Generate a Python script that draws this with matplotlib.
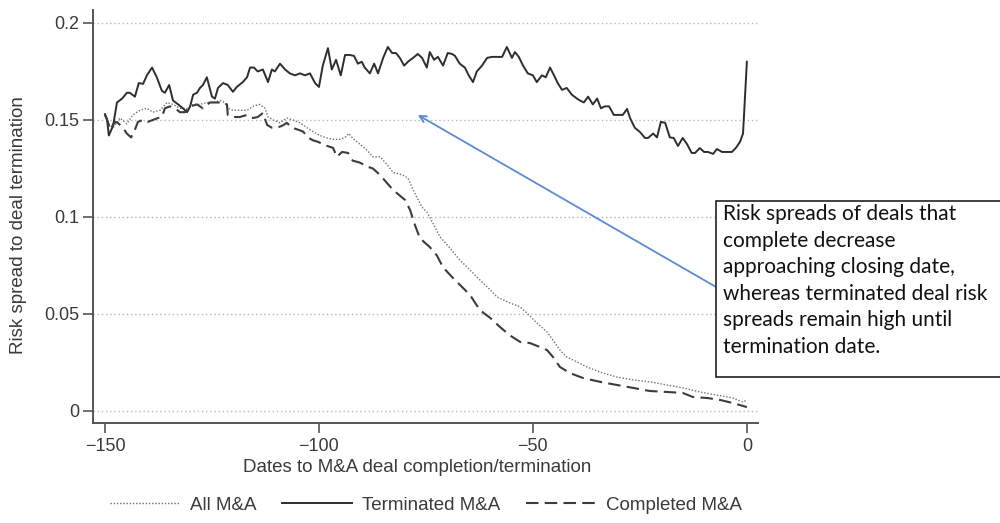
import matplotlib
matplotlib.use("Agg")
import matplotlib.pyplot as plt
from matplotlib.patches import Rectangle

# Days relative to deal completion / termination, and mean risk spreads
term_days = [-150, -149.5, -149.1, -148.1, -147.2, -146.0, -144.9, -144.2, -143.0, -142.1,
             -141.1, -140.2, -139.0, -137.9, -136.7, -136.0, -135.0, -134.1, -132.9, -131.8,
             -130.8, -130.1, -129.4, -128.5, -127.8, -127.1, -126.2, -125.0, -124.3, -123.6,
             -122.4, -121.3, -120.1, -119.2, -117.8, -116.8, -116.1, -115.2, -114.3, -113.1,
             -111.9, -111.0, -110.3, -109.1, -107.9, -106.8, -105.6, -104.4, -103.3, -102.1,
             -100.9, -100.0, -99.1, -97.9, -97.0, -96.0, -94.9, -93.9, -92.8, -91.8,
             -90.9, -90.0, -89.3, -88.1, -87.1, -86.2, -85.0, -83.9, -82.9, -82.0,
             -81.1, -80.1, -79.2, -78.0, -76.9, -75.9, -74.8, -74.1, -73.1, -72.2,
             -71.0, -69.9, -68.9, -68.2, -67.1, -65.9, -65.0, -64.0, -63.1, -61.9,
             -60.7, -59.6, -58.4, -57.2, -56.1, -54.9, -54.2, -53.3, -52.3, -51.2,
             -50.0, -49.1, -47.9, -47.0, -46.0, -45.3, -44.2, -43.2, -42.1, -40.9,
             -39.7, -39.0, -38.1, -37.1, -36.0, -35.0, -34.1, -33.2, -32.2, -31.1,
             -29.9, -29.0, -28.0, -27.3, -26.2, -25.0, -23.8, -23.1, -21.9, -21.0,
             -20.1, -19.1, -18.0, -17.1, -16.1, -15.0, -14.0, -12.9, -12.1, -11.0,
             -10.0, -9.1, -7.9, -7.0, -5.8, -4.7, -3.5, -2.6, -1.6, -0.9,
             0]
term_spread = [0.153, 0.150, 0.142, 0.147, 0.159, 0.161, 0.164, 0.164, 0.162, 0.169,
               0.1686, 0.173, 0.177, 0.172, 0.165, 0.164, 0.168, 0.160, 0.158, 0.156,
               0.154, 0.157, 0.163, 0.164, 0.1665, 0.168, 0.172, 0.162, 0.161, 0.1665,
               0.169, 0.168, 0.1645, 0.167, 0.1695, 0.172, 0.177, 0.177, 0.175, 0.176,
               0.1695, 0.176, 0.175, 0.179, 0.176, 0.174, 0.173, 0.174, 0.173, 0.174,
               0.169, 0.167, 0.178, 0.187, 0.176, 0.181, 0.173, 0.1835, 0.1835, 0.183,
               0.179, 0.180, 0.177, 0.174, 0.179, 0.174, 0.182, 0.1876, 0.1845, 0.1845,
               0.182, 0.178, 0.180, 0.182, 0.184, 0.182, 0.177, 0.185, 0.181, 0.1825,
               0.178, 0.1845, 0.184, 0.183, 0.179, 0.177, 0.173, 0.1695, 0.175, 0.178,
               0.182, 0.1825, 0.1825, 0.1825, 0.1876, 0.182, 0.185, 0.1825, 0.178, 0.174,
               0.173, 0.1695, 0.173, 0.172, 0.177, 0.174, 0.169, 0.1655, 0.1665, 0.163,
               0.161, 0.160, 0.159, 0.162, 0.158, 0.161, 0.156, 0.157, 0.157, 0.1526,
               0.1526, 0.1526, 0.1557, 0.151, 0.146, 0.1438, 0.1407, 0.1407, 0.143, 0.141,
               0.149, 0.1485, 0.141, 0.1407, 0.1366, 0.1407, 0.1376, 0.133, 0.133, 0.1355,
               0.1335, 0.1335, 0.1325, 0.135, 0.1335, 0.1335, 0.1335, 0.1355, 0.1387, 0.143,
               0.180]

all_days = [-150.0, -148.8, -148.1, -146.5, -144.9, -143.5, -141.8, -140.2, -138.8, -137.1,
            -135.5, -134.1, -132.5, -130.8, -129.4, -127.8, -126.2, -124.8, -123.1, -122.0,
            -121.3, -120.1, -118.5, -116.8, -115.4, -113.8, -112.6, -111.9, -110.7, -109.1,
            -107.5, -106.1, -104.4, -102.8, -101.4, -99.8, -98.1, -96.7, -95.1, -93.9,
            -93.0, -92.1, -91.1, -88.8, -87.4, -85.7, -84.1, -82.7, -80.4, -79.2,
            -78.3, -77.1, -75.9, -74.8, -73.4, -71.7, -69.4, -67.1, -64.7, -62.9,
            -60.7, -58.4, -55.4, -53.0, -51.4, -49.1, -46.7, -45.3, -43.7, -42.1,
            -39.7, -37.4, -34.3, -30.4, -26.6, -22.7, -18.7, -15.0, -11.0, -7.0,
            -3.3, -0.9, 0.0]
all_spread = [0.1526, 0.147, 0.146, 0.151, 0.148, 0.1526, 0.155, 0.156, 0.154, 0.155,
              0.159, 0.158, 0.156, 0.156, 0.158, 0.158, 0.159, 0.159, 0.160, 0.159,
              0.156, 0.155, 0.155, 0.155, 0.157, 0.158, 0.156, 0.1515, 0.150, 0.1485,
              0.151, 0.150, 0.1485, 0.146, 0.144, 0.142, 0.1407, 0.140, 0.140, 0.141,
              0.143, 0.1405, 0.1387, 0.1345, 0.131, 0.131, 0.127, 0.123, 0.1216, 0.120,
              0.1155, 0.110, 0.105, 0.1026, 0.097, 0.0897, 0.084, 0.0778, 0.0727, 0.0686,
              0.064, 0.0588, 0.0557, 0.0536, 0.0505, 0.0454, 0.0407, 0.0366, 0.0314, 0.0278,
              0.0253, 0.0227, 0.020, 0.0175, 0.016, 0.015, 0.0134, 0.0119, 0.0098, 0.0082,
              0.0067, 0.0046, 0.0057]

comp_days = [-150.0, -149.5, -148.8, -147.7, -147.0, -145.8, -144.9, -143.9, -143.0, -142.3,
             -141.1, -140.0, -138.8, -137.6, -136.7, -136.0, -134.8, -133.6, -132.5, -131.3,
             -130.1, -128.5, -127.1, -125.5, -123.8, -122.4, -121.5, -121.3, -120.1, -118.5,
             -116.8, -115.4, -114.3, -113.1, -112.1, -111.0, -109.8, -108.6, -107.5, -106.3,
             -104.9, -103.7, -102.6, -101.4, -100.2, -98.6, -96.7, -95.8, -94.6, -93.2,
             -92.1, -90.4, -88.8, -87.4, -85.7, -84.1, -82.7, -81.1, -79.9, -78.7,
             -77.6, -76.4, -74.1, -72.4, -71.0, -68.7, -66.6, -64.7, -62.4, -60.0,
             -57.7, -55.4, -53.0, -50.7, -48.4, -46.7, -45.3, -43.7, -41.4, -38.3,
             -34.3, -30.4, -26.6, -22.7, -18.7, -15.0, -12.6, -9.3, -6.3, -3.3,
             0.0]
comp_spread = [0.1526, 0.150, 0.145, 0.149, 0.1485, 0.146, 0.143, 0.141, 0.145, 0.149,
               0.150, 0.149, 0.150, 0.151, 0.1515, 0.156, 0.157, 0.156, 0.154, 0.154,
               0.157, 0.158, 0.156, 0.159, 0.159, 0.159, 0.158, 0.1526, 0.1515, 0.1515,
               0.1526, 0.151, 0.1515, 0.1536, 0.1474, 0.146, 0.146, 0.147, 0.1485, 0.146,
               0.145, 0.144, 0.141, 0.1395, 0.1387, 0.137, 0.1356, 0.131, 0.1335, 0.133,
               0.129, 0.128, 0.126, 0.125, 0.1216, 0.1175, 0.114, 0.111, 0.1088, 0.1036,
               0.096, 0.089, 0.0845, 0.080, 0.074, 0.0686, 0.064, 0.0598, 0.052, 0.048,
               0.0433, 0.039, 0.0356, 0.035, 0.033, 0.0314, 0.0278, 0.0227, 0.0196, 0.017,
               0.015, 0.0134, 0.0119, 0.0103, 0.0098, 0.0093, 0.0072, 0.0067, 0.0057, 0.0041,
               0.002]

x_ticks = [-150, -100, -50, 0]
y_ticks = [0, 0.05, 0.1, 0.15, 0.2]
y_tick_labels = ["0", "0.05", "0.1", "0.15", "0.2"]

series_labels = ["All M&A", "Terminated M&A", "Completed M&A"]
x_title = "Dates to M&A deal completion/termination"
y_title = "Risk spread to deal termination"
note_text = ("Risk spreads of deals that\n"
             "complete decrease\n"
             "approaching closing date,\n"
             "whereas terminated deal risk\n"
             "spreads remain high until\n"
             "termination date.")

plt.rcParams["font.family"] = ["Liberation Sans", "DejaVu Sans"]
ink = "#3a3a3a"

fig = plt.figure(figsize=(10, 5.23), dpi=100)
ax = fig.add_axes([0.093, 0.1912, 0.665, 0.7898])

ax.set_xlim(-152.8, 2.6)
ax.set_ylim(-0.0062, 0.2067)

for yv in y_ticks:
    ax.axhline(yv, color="#b8b8b8", lw=1.0, ls=(0, (1, 2)), zorder=0)

l_all, = ax.plot(all_days, all_spread, color="#707070", lw=1.0,
                 ls=(0, (1, 1.3)), label=series_labels[0])
l_term, = ax.plot(term_days, term_spread, color="#2e2e2e", lw=1.4,
                  label=series_labels[1])
l_comp, = ax.plot(comp_days, comp_spread, color="#3c3c3c", lw=1.5,
                  ls=(0, (6, 3)), label=series_labels[2])

for side in ["top", "right"]:
    ax.spines[side].set_visible(False)
for side in ["left", "bottom"]:
    ax.spines[side].set_color("#555555")
    ax.spines[side].set_linewidth(1.4)

ax.set_xticks(x_ticks)
ax.set_xticklabels([f"\u2212{abs(v)}" if v < 0 else str(v) for v in x_ticks])
ax.set_yticks(y_ticks)
ax.set_yticklabels(y_tick_labels)
ax.tick_params(axis="both", direction="out", length=7, width=1.2,
               color="#555555", labelcolor=ink, labelsize=13)
ax.tick_params(axis="x", pad=4)
ax.tick_params(axis="y", pad=3)

fig.text(0.417, 1 - 468 / 523, x_title, ha="center", va="center",
         fontsize=13.5, color=ink)
fig.text(0.019, 1 - 225 / 523, y_title, ha="center", va="center",
         rotation=90, fontsize=13.5, color=ink)

fig.legend(handles=[l_all, l_term, l_comp], labels=series_labels,
           loc="center", bbox_to_anchor=(0.426, 1 - 505 / 523), ncol=3,
           frameon=False, fontsize=13.5, handlelength=3.7, handletextpad=0.55,
           columnspacing=1.4, labelcolor=ink)

# Annotation box with arrow pointing at the terminated-deal series
box = Rectangle((0.716, 1 - 377 / 523), 0.4, (377 - 201) / 523,
                transform=fig.transFigure, fill=True, facecolor="white",
                edgecolor="#222222", lw=1.2, clip_on=False, zorder=5)
fig.patches.append(box)
fig.text(0.723, 1 - 204 / 523, note_text, ha="left", va="top",
         fontsize=15, family=["Lato", "DejaVu Sans"], color="#111111",
         linespacing=1.41, zorder=6)

ax.annotate("", xy=(-76.9, 0.1526), xytext=(-7.2, 0.0639),
            arrowprops=dict(arrowstyle="->", color="#5b8bd6", lw=1.3,
                            mutation_scale=12, shrinkA=0, shrinkB=0),
            annotation_clip=False, zorder=4)

fig.savefig("out.png", dpi=100)
